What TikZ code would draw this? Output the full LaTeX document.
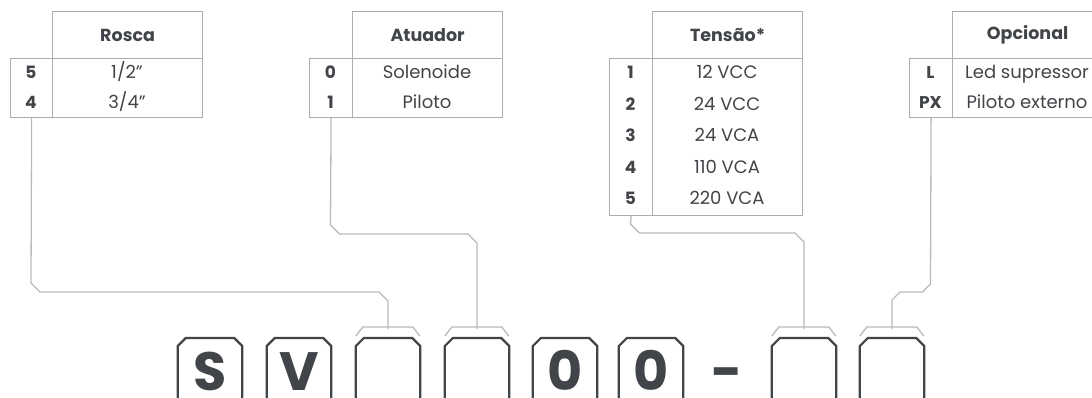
\documentclass[tikz,border=0pt]{standalone}
\usepackage{fontspec}
\setmainfont{Poppins}
\definecolor{ink}{HTML}{414448}
\definecolor{grid}{HTML}{ADADAD}
\definecolor{wirec}{HTML}{BABABA}
\newcommand\keyoutline[1]{%
  \draw[keyline] ([yshift=-30pt]#1.south west) -- ([yshift=-8pt]#1.north west) -- ([xshift=8pt]#1.north west)
    -- ([xshift=-8pt]#1.north east) -- ([yshift=-8pt]#1.north east) -- ([yshift=-30pt]#1.south east);}
\newcommand\keybracket[2]{%
  \draw[wire] ([yshift=2pt]#1.north west) -- ++(7,-9) -- ++(50,0) -- ++(7,9);
  \coordinate (#2) at ([yshift=9pt]#1.north);}
\begin{document}
\begin{tikzpicture}[x=1pt,y=-1pt,
  cell/.style={draw=grid,line width=1.2pt,inner sep=0pt,anchor=north west},
  hdr/.style={font=\fontsize{17.5}{20}\selectfont\bfseries,text=ink},
  num/.style={font=\fontsize{17}{20}\selectfont\bfseries,text=ink,anchor=base,inner sep=0pt},
  val/.style={font=\fontsize{18}{20}\selectfont,text=ink,anchor=base,inner sep=0pt},
  wire/.style={draw=wirec,line width=1.3pt},
  keyline/.style={draw=ink,line width=2.2pt},
  keybox/.style={minimum width=64pt,minimum height=64pt,anchor=north,inner sep=0pt},
  keych/.style={font=\fontsize{54}{60}\selectfont\bfseries,text=ink,anchor=base,inner sep=0pt,text depth=0pt}]
\useasboundingbox (0,0) rectangle (1092,398);
\clip (0,0) rectangle (1092,398);
% ---- table 1: Rosca
\node[cell,hdr,minimum width=150pt,minimum height=47pt] (t1h) at (52,11) {Rosca};
\node[cell,minimum width=42pt,minimum height=59pt] (t1n) at (10,58) {};
\node[cell,minimum width=150pt,minimum height=59pt] (t1v) at (52,58) {};
\node[num] (t1a) at (31,79) {5};
\node[val] (t1b) at (127,79) {1/2"};
\node[num] (t1c) at (31,109) {4};
\node[val] (t1d) at (127,109) {3/4"};
% ---- table 2: Atuador
\node[cell,hdr,minimum width=150pt,minimum height=47pt] (t2h) at (352,11) {Atuador};
\node[cell,minimum width=43pt,minimum height=59pt] (t2n) at (309,58) {};
\node[cell,minimum width=150pt,minimum height=59pt] (t2v) at (352,58) {};
\node[num] (t2a) at (330.5,79) {0};
\node[val] (t2b) at (427,79) {Solenoide};
\node[num] (t2c) at (330.5,109) {1};
\node[val] (t2d) at (427,109) {Piloto};
% ---- table 3: Tensao
\node[cell,hdr,minimum width=150pt,minimum height=47pt] (t3h) at (652,11) {Tensão*};
\node[cell,minimum width=43pt,minimum height=157pt] (t3n) at (609,58) {};
\node[cell,minimum width=150pt,minimum height=157pt] (t3v) at (652,58) {};
\node[num] (t3a) at (630.5,79) {1};
\node[val] (t3b) at (727,79) {12 VCC};
\node[num] (t3c) at (630.5,110.5) {2};
\node[val] (t3d) at (727,110.5) {24 VCC};
\node[num] (t3e) at (630.5,142) {3};
\node[val] (t3f) at (727,142) {24 VCA};
\node[num] (t3g) at (630.5,173.5) {4};
\node[val] (t3h2) at (727,173.5) {110 VCA};
\node[num] (t3i) at (630.5,205) {5};
\node[val] (t3j) at (727,205) {220 VCA};
% ---- table 4: Opcional
\node[cell,hdr,minimum width=150pt,minimum height=47pt] (t4h) at (952,11) {Opcional};
\node[cell,minimum width=43pt,minimum height=59pt] (t4n) at (909,58) {};
\node[cell,minimum width=150pt,minimum height=59pt] (t4v) at (952,58) {};
\node[num] (t4a) at (930.5,79) {L};
\node[val] (t4b) at (1027,79) {Led supressor};
\node[num] (t4c) at (930.5,109) {PX};
\node[val] (t4d) at (1027,109) {Piloto externo};
% ---- keys
\node[keybox] (k1) at (210,338) {};
\node[keybox] (k2) at (299,338) {};
\node[keybox] (k3) at (388,338) {};
\node[keybox] (k4) at (477,338) {};
\node[keybox] (k5) at (565,338) {};
\node[keybox] (k6) at (651,338) {};
\node[keybox] (k7) at (804,338) {};
\node[keybox] (k8) at (892,338) {};
\foreach \k in {k1,k2,k3,k4,k5,k6,k7,k8} {\keyoutline{\k}}
\node[keych] (c1) at (210,390) {S};
\node[keych] (c2) at (299,390) {V};
\node[keych] (c5) at (565,390) {0};
\node[keych] (c6) at (651,390) {0};
\node[keych] (dash) at (727,390) {-};
\keybracket{k3}{b3}
\keybracket{k4}{b4}
\keybracket{k7}{b7}
\keybracket{k8}{b8}
% ---- connectors
\draw[wire] (t1n.south) -- (31,283) -- (40,292) -- (379,292) -- (388,301) -- (b3);
\draw[wire] (t2n.south) -- (330.5,225) -- (339.5,234) -- (468,234) -- (477,243) -- (b4);
\draw[wire] (t3n.south) -- (630.5,224) -- (639.5,233) -- (795,233) -- (804,242) -- (b7);
\draw[wire] (t4n.south) -- (930.5,284) -- (922.5,292) -- (900,292) -- (892,300) -- (b8);
\end{tikzpicture}
\end{document}
